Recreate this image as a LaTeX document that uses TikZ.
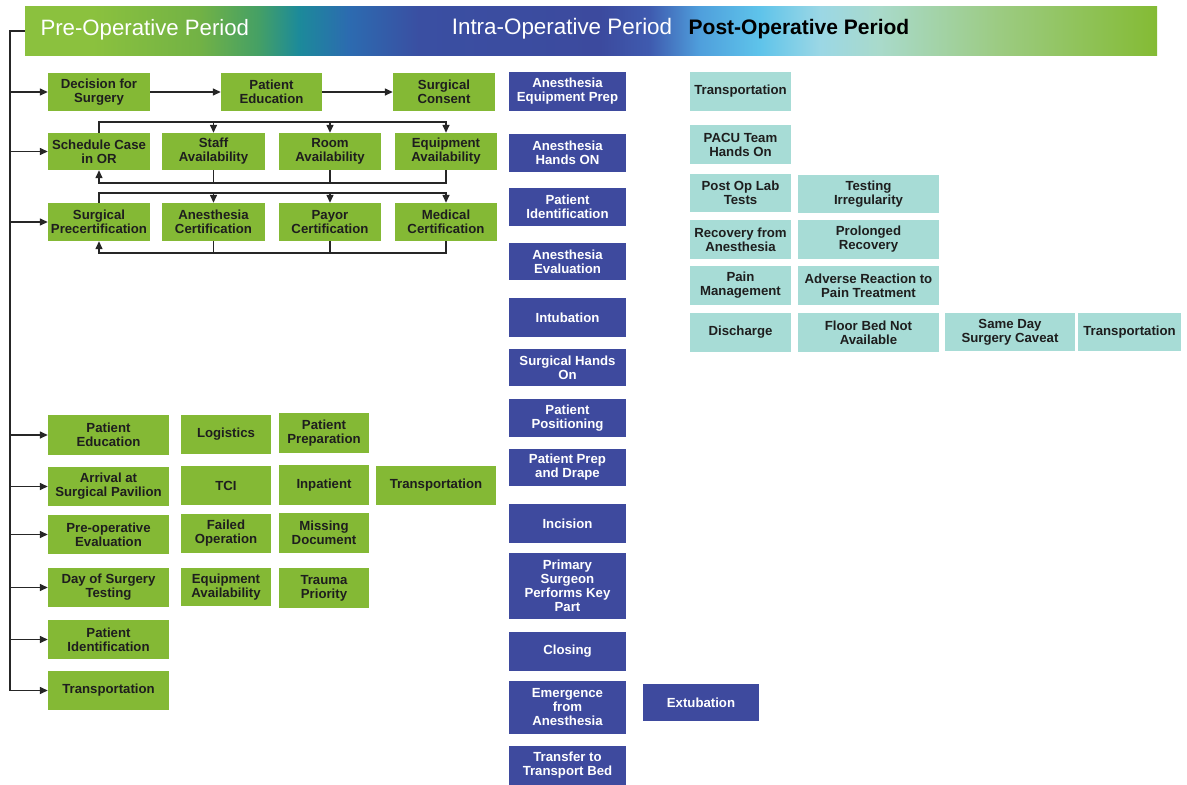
\documentclass[tikz,border=0pt]{standalone}
\usepackage{fontspec}
\setmainfont{Liberation Sans}
\usetikzlibrary{arrows.meta,calc}
\definecolor{gfill}{HTML}{84B935}
\definecolor{bfill}{HTML}{3E4A9E}
\definecolor{tfill}{HTML}{A7DCD6}
\definecolor{gtext}{HTML}{1E1E1E}
\definecolor{c0}{HTML}{8BC13E}
\definecolor{c1}{HTML}{72B245}
\definecolor{c2}{HTML}{45A065}
\definecolor{c3}{HTML}{1C8A9A}
\definecolor{c4}{HTML}{2C6BB0}
\definecolor{c5}{HTML}{3A4FA2}
\definecolor{c6}{HTML}{3C4A9E}
\definecolor{c7}{HTML}{3F5BAF}
\definecolor{c8}{HTML}{4F9FDC}
\definecolor{c9}{HTML}{5EC3EA}
\definecolor{c10}{HTML}{9BD7E5}
\definecolor{c11}{HTML}{A9DACB}
\definecolor{c12}{HTML}{9CCB82}
\definecolor{c13}{HTML}{84BB34}
\pgfdeclarehorizontalshading{bannershade}{100bp}{color(0bp)=(c0); color(25bp)=(c0); color(28bp)=(c0); color(32.7bp)=(c1); color(35.3bp)=(c2); color(37.1bp)=(c3); color(39.3bp)=(c4); color(42.4bp)=(c5); color(50.4bp)=(c6); color(52.6bp)=(c7); color(54.8bp)=(c8); color(57.4bp)=(c9); color(60.1bp)=(c10); color(62.7bp)=(c11); color(68bp)=(c12); color(75bp)=(c13); color(100bp)=(c13)}
\newcommand{\bx}[7]{\node[#1, minimum width={(#5-#3)*1pt}, minimum height={(#6-#4)*1pt}] (#2) at ({(#3+#5)/2},{(#4+#6)/2}) {#7};}
\tikzset{
  box/.style={inner sep=0pt, align=center, font=\bfseries\fontsize{13.2}{14}\selectfont},
  gbox/.style={box, fill=gfill, text=gtext},
  bbox/.style={box, fill=bfill, text=white},
  tbox/.style={box, fill=tfill, text=gtext},
  ln/.style={line width=1.4pt, draw=black!85},
  arr/.style={ln, -{Triangle[length=8pt,width=7pt]}},
}
\begin{document}
\begin{tikzpicture}[x=1pt,y=-1pt]
\useasboundingbox[fill=white] (0,0) rectangle (1187,785);
% banner
\node[shade, shading=bannershade, minimum width=1132pt, minimum height=49pt, inner sep=0] (banner) at (591,31) {};
\node[anchor=west, text=white, font=\fontsize{22.2}{24}\selectfont] (lpre) at (37,30) {Pre-Operative Period};
\node[text=white, font=\fontsize{22.4}{24}\selectfont] (lintra) at (562,29) {Intra-Operative Period};
\node[text=black, font=\bfseries\fontsize{21}{24}\selectfont] (lpost) at (799,29) {Post-Operative Period};
% pre-op upper
\bx{gbox}{dec}{48}{73}{150}{111}{Decision for\\Surgery}
\bx{gbox}{pe1}{221}{73}{322}{111}{Patient\\Education}
\bx{gbox}{cons}{393}{73}{495}{111}{Surgical\\Consent}
\bx{gbox}{sched}{48}{133}{150}{170}{Schedule Case\\in OR}
\bx{gbox}{staff}{162}{133}{265}{170}{Staff\\Availability}
\bx{gbox}{room}{279}{133}{381}{170}{Room\\Availability}
\bx{gbox}{equip}{395}{133}{497}{170}{Equipment\\Availability}
\bx{gbox}{prec}{48}{203}{150}{241}{Surgical\\Precertification}
\bx{gbox}{anc}{162}{203}{265}{241}{Anesthesia\\Certification}
\bx{gbox}{pay}{279}{203}{381}{241}{Payor\\Certification}
\bx{gbox}{med}{395}{203}{497}{241}{Medical\\Certification}
% pre-op lower
\bx{gbox}{pe2}{48}{415}{169}{455}{Patient\\Education}
\bx{gbox}{arrv}{48}{467}{169}{506}{Arrival at\\Surgical Pavilion}
\bx{gbox}{eval}{48}{515}{169}{554}{Pre-operative\\Evaluation}
\bx{gbox}{dos}{48}{568}{169}{607}{Day of Surgery\\Testing}
\bx{gbox}{pid}{48}{620}{169}{659}{Patient\\Identification}
\bx{gbox}{tr1}{48}{671}{169}{710}{Transportation}
\bx{gbox}{logi}{181}{415}{271}{454}{Logistics}
\bx{gbox}{tci}{181}{466}{271}{505}{TCI}
\bx{gbox}{fail}{181}{514}{271}{553}{Failed\\Operation}
\bx{gbox}{eqa}{181}{568}{271}{606}{Equipment\\Availability}
\bx{gbox}{pprep}{279}{413}{369}{453}{Patient\\Preparation}
\bx{gbox}{inp}{279}{465}{369}{505}{Inpatient}
\bx{gbox}{miss}{279}{513}{369}{553}{Missing\\Document}
\bx{gbox}{trau}{279}{568}{369}{608}{Trauma\\Priority}
\bx{gbox}{tr2}{376}{466}{496}{505}{Transportation}
% intra-op
\bx{bbox}{i1}{509}{72}{626}{111}{Anesthesia\\Equipment Prep}
\bx{bbox}{i2}{509}{134}{626}{172}{Anesthesia\\Hands ON}
\bx{bbox}{i3}{509}{188}{626}{226}{Patient\\Identification}
\bx{bbox}{i4}{509}{243}{626}{280}{Anesthesia\\Evaluation}
\bx{bbox}{i5}{509}{298}{626}{337}{Intubation}
\bx{bbox}{i6}{509}{349}{626}{386}{Surgical Hands\\On}
\bx{bbox}{i7}{509}{399}{626}{437}{Patient\\Positioning}
\bx{bbox}{i8}{509}{449}{626}{486}{Patient Prep\\and Drape}
\bx{bbox}{i9}{509}{504}{626}{543}{Incision}
\bx{bbox}{i10}{509}{553}{626}{619}{Primary\\Surgeon\\Performs Key\\Part}
\bx{bbox}{i11}{509}{632}{626}{671}{Closing}
\bx{bbox}{i12}{509}{681}{626}{734}{Emergence\\from\\Anesthesia}
\bx{bbox}{i13}{509}{746}{626}{785}{Transfer to\\Transport Bed}
\bx{bbox}{ext}{643}{684}{759}{721}{Extubation}
% post-op
\bx{tbox}{p1}{690}{72}{791}{111}{Transportation}
\bx{tbox}{p2}{690}{125}{791}{164}{PACU Team\\Hands On}
\bx{tbox}{p3}{690}{174}{791}{212}{Post Op Lab\\Tests}
\bx{tbox}{p4}{690}{220}{791}{259}{Recovery from\\Anesthesia}
\bx{tbox}{p5}{690}{266}{791}{305}{Pain\\Management}
\bx{tbox}{p6}{690}{313}{791}{352}{Discharge}
\bx{tbox}{q3}{798}{175}{939}{213}{Testing\\Irregularity}
\bx{tbox}{q4}{798}{220}{939}{259}{Prolonged\\Recovery}
\bx{tbox}{q5}{798}{266}{939}{305}{Adverse Reaction to\\Pain Treatment}
\bx{tbox}{q6}{798}{313}{939}{352}{Floor Bed Not\\Available}
\bx{tbox}{r6}{945}{313}{1075}{351}{Same Day\\Surgery Caveat}
\bx{tbox}{s6}{1078}{313}{1181}{351}{Transportation}
% connectors: row 1
\draw[arr] (dec) -- (pe1);
\draw[arr] (pe1) -- (cons);
% row 2
\coordinate (t2) at (0,122);
\coordinate (b2) at (0,183);
\draw[arr] (sched.north) |- (equip.north |- t2) -- (equip.north);
\draw[arr] (staff.north |- t2) -- (staff.north);
\draw[arr] (room.north |- t2) -- (room.north);
\draw[arr] (equip.south) |- (sched.south |- b2) -- (sched.south);
\draw[ln] (staff.south) -- (staff.south |- b2);
\draw[ln] (room.south) -- (room.south |- b2);
% row 3
\coordinate (t3) at (0,193);
\coordinate (b3) at (0,253);
\draw[arr] (prec.north) |- (med.north |- t3) -- (med.north);
\draw[arr] (anc.north |- t3) -- (anc.north);
\draw[arr] (pay.north |- t3) -- (pay.north);
\draw[arr] (med.south) |- (prec.south |- b3) -- (prec.south);
\draw[ln] (anc.south) -- (anc.south |- b3);
\draw[ln] (pay.south) -- (pay.south |- b3);
% trunk
\coordinate (trunk) at (10,0);
\draw[ln] (banner.west) -| (trunk |- tr1.west);
\foreach \n in {dec,sched,prec,pe2,arrv,eval,dos,pid,tr1}
  \draw[arr] (trunk |- \n.west) -- (\n.west);
\end{tikzpicture}
\end{document}
